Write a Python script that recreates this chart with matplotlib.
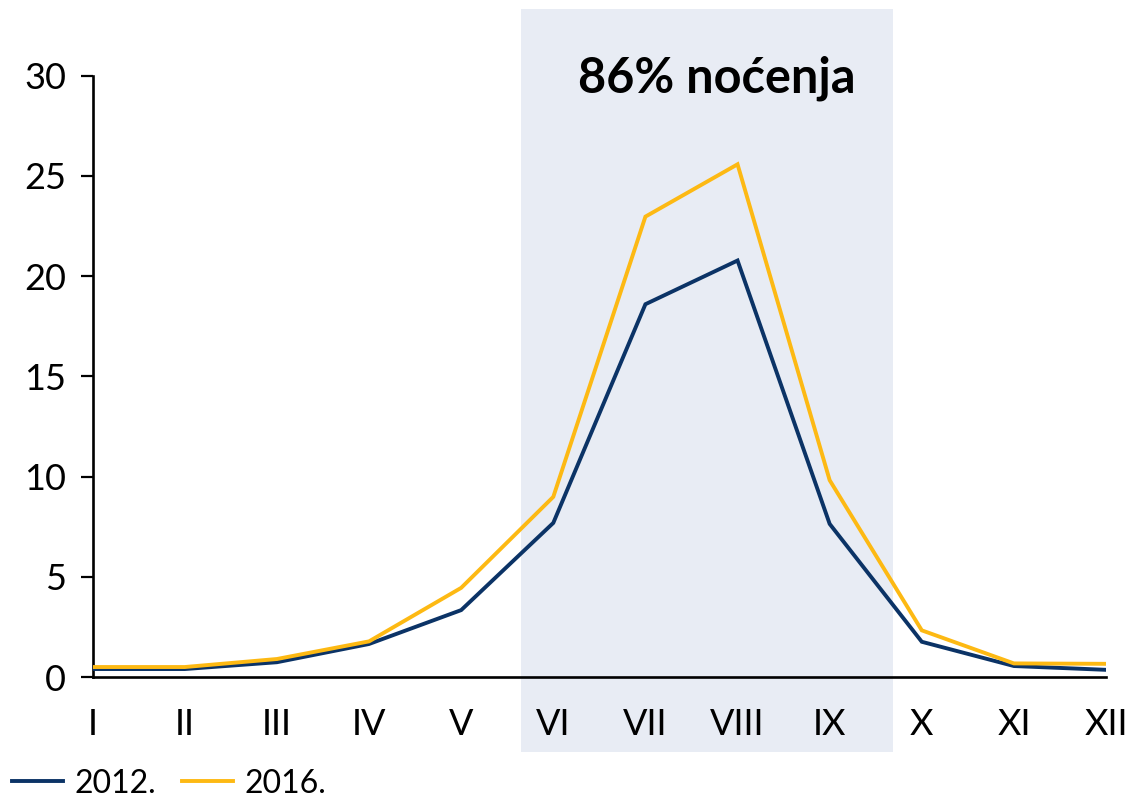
import matplotlib
matplotlib.use("Agg")
import matplotlib.pyplot as plt
import matplotlib.transforms as mtransforms
from matplotlib.patches import Rectangle

plt.rcParams['font.family'] = ['Lato', 'DejaVu Sans']

months = ["I", "II", "III", "IV", "V", "VI", "VII", "VIII", "IX", "X", "XI", "XII"]
y2012 = [0.4, 0.4, 0.74, 1.65, 3.34, 7.69, 18.6, 20.78, 7.64, 1.76, 0.55, 0.36]
y2016 = [0.5, 0.5, 0.9, 1.78, 4.45, 8.99, 22.97, 25.58, 9.82, 2.33, 0.68, 0.66]
series_labels = ["2012.", "2016."]
yticks = [0, 5, 10, 15, 20, 25, 30]
title_text = "86% noćenja"

c2012 = "#0b3366"
c2016 = "#fdb913"
shade = "#e8ecf4"

fig = plt.figure(figsize=(11.33, 7.97), dpi=100)
ax = fig.add_axes([0.0818, 0.1505, 0.8944, 0.7545])
ax.set_facecolor('none')

x = list(range(len(months)))
ax.plot(x, y2012, color=c2012, lw=2.8, label=series_labels[0], solid_joinstyle='miter', zorder=3)
ax.plot(x, y2016, color=c2016, lw=2.8, label=series_labels[1], solid_joinstyle='miter', zorder=3)

ax.set_xlim(0, 11)
ax.set_ylim(0, 30)

# shaded season band spanning beyond the axes vertically
trans = mtransforms.blended_transform_factory(ax.transData, fig.transFigure)
rect = Rectangle((4.65, 0.0565), 8.69 - 4.65, 0.9887 - 0.0565, transform=trans,
                 facecolor=shade, edgecolor='none', zorder=0, clip_on=False)
ax.add_patch(rect)

ax.text(6.77, 0.902, title_text, transform=trans,
        ha='center', va='center', fontsize=35, fontweight='bold', color='black', zorder=4)

ax.set_xticks(x)
ax.set_xticklabels(months, fontsize=26)
ax.set_yticks(yticks)
ax.set_yticklabels([str(v) for v in yticks], fontsize=26)
ax.tick_params(axis='x', length=0, pad=22)
ax.tick_params(axis='y', length=9, width=1.6, direction='out', pad=10)

for s in ['top', 'right']:
    ax.spines[s].set_visible(False)
ax.spines['left'].set_linewidth(1.9)
ax.spines['bottom'].set_linewidth(1.9)

fig.legend(loc='lower left', bbox_to_anchor=(0.005, -0.01), ncol=2, frameon=False,
           fontsize=23, handlelength=1.6, handletextpad=0.37, columnspacing=0.78,
           borderpad=0.2, borderaxespad=0.0)

fig.savefig("out.png", dpi=100, facecolor='white')
